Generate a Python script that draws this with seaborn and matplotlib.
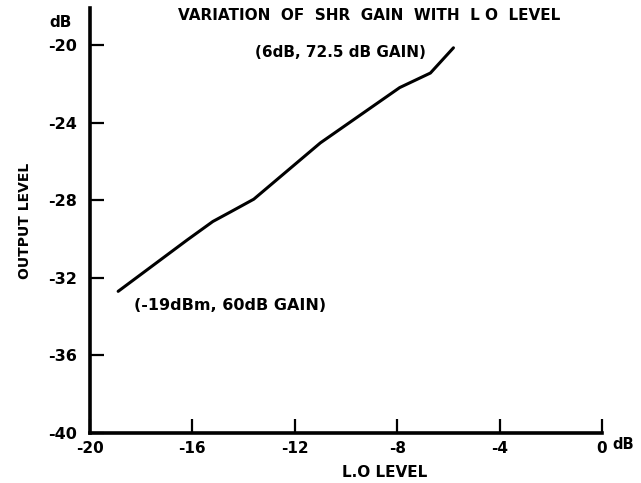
import matplotlib
matplotlib.use('Agg')
import matplotlib.pyplot as plt
import seaborn as sns
import pandas as pd

# values
lo_level = [-18.9, -16.2, -15.2, -14.5, -13.6, -11.0, -7.9, -6.7, -5.8]
output_level = [-32.7, -30.05, -29.1, -28.6, -27.95, -25.05, -22.2, -21.45, -20.15]
x_ticks = [-20, -16, -12, -8, -4, 0]
y_ticks = [-40, -36, -32, -28, -24, -20]

df = pd.DataFrame({'lo': lo_level, 'out': output_level})

sns.set_style('ticks', {'axes.edgecolor': 'black', 'text.color': 'black',
                        'xtick.color': 'black', 'ytick.color': 'black',
                        'axes.labelcolor': 'black'})
plt.rcParams['font.family'] = ['DejaVu Sans']

fig = plt.figure(figsize=(6.41, 4.83), dpi=100)
ax = fig.add_axes([0.1404, 0.1035, 0.7986, 0.8799])

sns.lineplot(data=df, x='lo', y='out', color='black', linewidth=2.2, ax=ax)

ax.set_xlim(-20, 0)
ax.set_ylim(-40, -18.1)
ax.set_xticks(x_ticks)
ax.set_yticks(y_ticks)
ax.set_xticklabels([str(v) for v in x_ticks], fontsize=11, fontweight='bold')
ax.set_yticklabels([str(v) for v in y_ticks], fontsize=11.5, fontweight='bold')
ax.tick_params(direction='in', length=10, width=1.6, color='black', pad=6)
ax.tick_params(axis='y', pad=9)

sns.despine(ax=ax)
ax.spines['left'].set_linewidth(2.6)
ax.spines['bottom'].set_linewidth(2.6)
ax.set_xlabel('L.O LEVEL', fontsize=11, fontweight='bold')
ax.xaxis.set_label_coords(0.576, -0.075)
ax.set_ylabel('OUTPUT LEVEL', fontsize=10, fontweight='bold', labelpad=12)

fig.text(0.576, 0.967, 'VARIATION  OF  SHR  GAIN  WITH  L O  LEVEL',
         ha='center', va='center', fontsize=11, fontweight='bold')
ax.text(-20.7, -18.85, 'dB', ha='right', va='center', fontsize=11, fontweight='bold')
ax.text(0.42, -40.6, 'dB', ha='left', va='center', fontsize=10.5, fontweight='bold')
ax.text(-10.2, -20.4, '(6dB, 72.5 dB GAIN)', ha='center', va='center',
        fontsize=11, fontweight='bold')
ax.text(-18.3, -33.45, '(-19dBm, 60dB GAIN)', ha='left', va='center',
        fontsize=11.5, fontweight='bold')

fig.savefig('out.png', dpi=100)
